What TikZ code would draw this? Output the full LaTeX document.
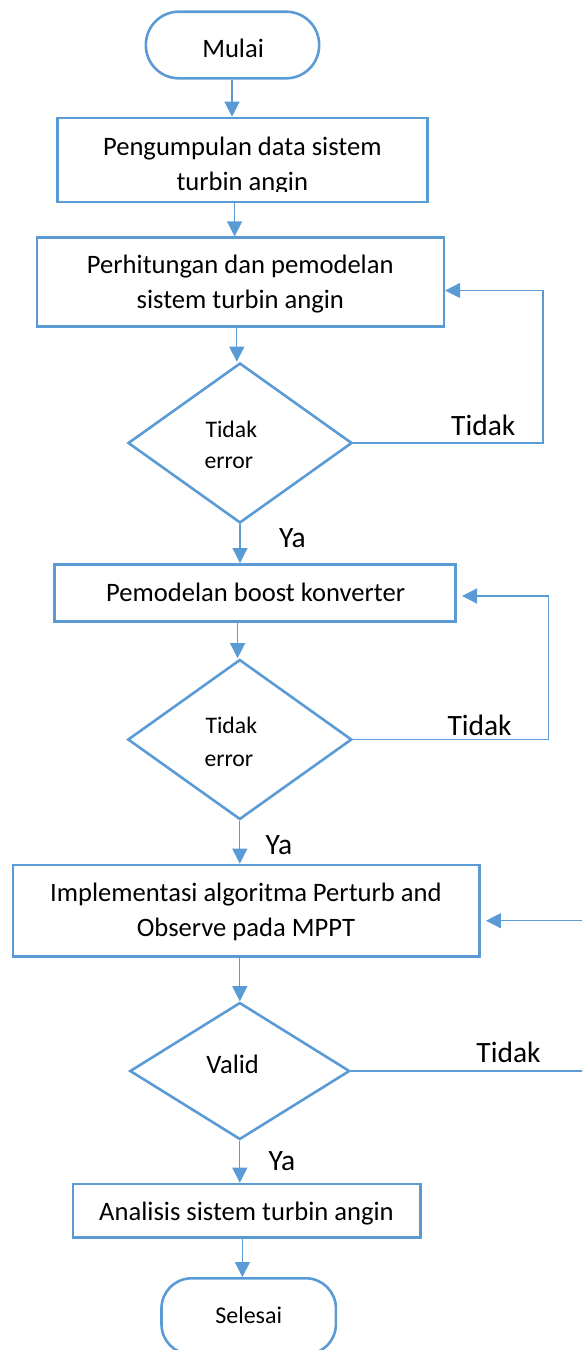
\documentclass[tikz,border=0pt]{standalone}
\usepackage{fontspec}
\setmainfont{Carlito}
\usetikzlibrary{arrows.meta,shapes.geometric}
\definecolor{flowblue}{HTML}{5B9BD5}
\begin{document}
\begin{tikzpicture}[x=1pt,y=-1pt,
  shapebox/.style={draw=flowblue,line width=2.6pt,rectangle,inner sep=0pt},
  termbox/.style={shapebox,rounded corners=#1},
  decision/.style={draw=flowblue,line width=2.6pt,diamond,inner sep=0pt},
  arr/.style={draw=flowblue,line width=1.3pt,-{Triangle[length=15pt,width=15pt]}},
  boxtext/.style={anchor=base,inner sep=0pt,font=\fontsize{26.6pt}{32pt}\selectfont},
  condtext/.style={anchor=base west,inner sep=0pt,font=\fontsize{23.7pt}{28pt}\selectfont},
  branch/.style={anchor=base west,inner sep=0pt,font=\fontsize{29.5pt}{34pt}\selectfont}]
\useasboundingbox (0,0) rectangle (582,1350);
\clip (0,0) rectangle (582,1350);

% shapes of the flow
\node[termbox=33pt,minimum width=173.3pt,minimum height=66.6pt] (mulai) at (232.5,45) {};
\node[shapebox,minimum width=370pt,minimum height=84pt] (b1) at (242.6,160) {};
\node[shapebox,minimum width=407pt,minimum height=89pt] (b2) at (240.3,282.2) {};
\node[decision,minimum width=224pt,minimum height=160pt] (d1) at (240,443) {};
\node[shapebox,minimum width=401pt,minimum height=57.4pt] (b3) at (255.2,593) {};
\node[decision,minimum width=224pt,minimum height=160pt] (d2) at (239.8,739.5) {};
\node[shapebox,minimum width=466.6pt,minimum height=91.7pt] (b4) at (246.3,910.8) {};
\node[decision,minimum width=220pt,minimum height=137pt] (d3) at (239.8,1071) {};
\node[shapebox,minimum width=347.5pt,minimum height=53.3pt] (b5) at (246.8,1210.6) {};
\node[termbox=30pt,minimum width=174.4pt,minimum height=76pt] (selesai) at (248.7,1316.3) {};

% texts inside the shapes
\node[boxtext] (tmulai) at (233.1,57.7) {Mulai};
\node[boxtext] (t1a) at (242.3,155) {Pengumpulan data sistem};
\begin{scope}
  \clip (0,0) rectangle (582,191.5);
  \node[boxtext] (t1b) at (242.3,190) {turbin angin};
\end{scope}
\node[boxtext] (t2a) at (240.3,273.3) {Perhitungan dan pemodelan};
\node[boxtext] (t2b) at (240.3,308.3) {sistem turbin angin};
\node[condtext] (c1a) at (205.3,437.7) {Tidak};
\node[condtext] (c1b) at (204.3,468.3) {error};
\node[boxtext] (t3) at (255.6,601.7) {Pemodelan boost konverter};
\node[condtext] (c2a) at (205.3,733.3) {Tidak};
\node[condtext] (c2b) at (204.3,766) {error};
\node[boxtext] (t4a) at (245.9,901.7) {Implementasi algoritma Perturb and};
\node[boxtext] (t4b) at (245.9,936.7) {Observe pada MPPT};
\node[boxtext] (c3) at (232.7,1073.3) {Valid};
\node[boxtext] (t5) at (246.5,1220) {Analisis sistem turbin angin};
\node[boxtext,font=\fontsize{24pt}{29pt}\selectfont] (tselesai) at (248.7,1323.3) {Selesai};

% branch labels
\node[branch] (no1) at (451,435) {Tidak};
\node[branch] (yes1) at (279,547.3) {Ya};
\node[branch] (no2) at (447.3,735) {Tidak};
\node[branch] (yes2) at (265.4,854) {Ya};
\node[branch] (no3) at (476.2,1062.7) {Tidak};
\node[branch] (yes3) at (268.4,1170) {Ya};

% main downward flow
\draw[arr] ([xshift=-0.5pt]mulai.south) -- ([xshift=-0.5pt]mulai.south |- b1.north);
\draw[arr] ([xshift=-8pt]b1.south) -- ([xshift=-8pt]b1.south |- b2.north);
\draw[arr] ([xshift=-3.5pt]b2.south) -- ([xshift=-3.5pt]b2.south |- d1.north);
\draw[arr] (d1.south) -- (d1.south |- b3.north);
\draw[arr] ([xshift=-17.6pt]b3.south) -- ([xshift=-17.6pt]b3.south |- d2.north);
\draw[arr] (d2.south) -- (d2.south |- b4.north);
\draw[arr] ([xshift=-6.5pt]b4.south) -- ([xshift=-6.5pt]b4.south |- d3.north);
\draw[arr] (d3.south) -- (d3.south |- b5.north);
\draw[arr] ([xshift=-4.4pt]b5.south) -- ([xshift=-4.4pt]b5.south |- selesai.north);

% loops back on "Tidak"
\coordinate (fb1) at (543,290.5);
\coordinate (fb2) at (548.3,596);
\coordinate (fb3) at (600,920.7);
\draw[arr] (d1.east) -| (fb1) -- ([yshift=-8.3pt]b2.east);
\draw[arr] (d2.east) -| (fb2) -- ([xshift=5pt,yshift=-3pt]b3.east);
\draw[arr] (d3.east) -| (fb3) -- ([xshift=5pt,yshift=-9.9pt]b4.east);
\end{tikzpicture}
\end{document}
